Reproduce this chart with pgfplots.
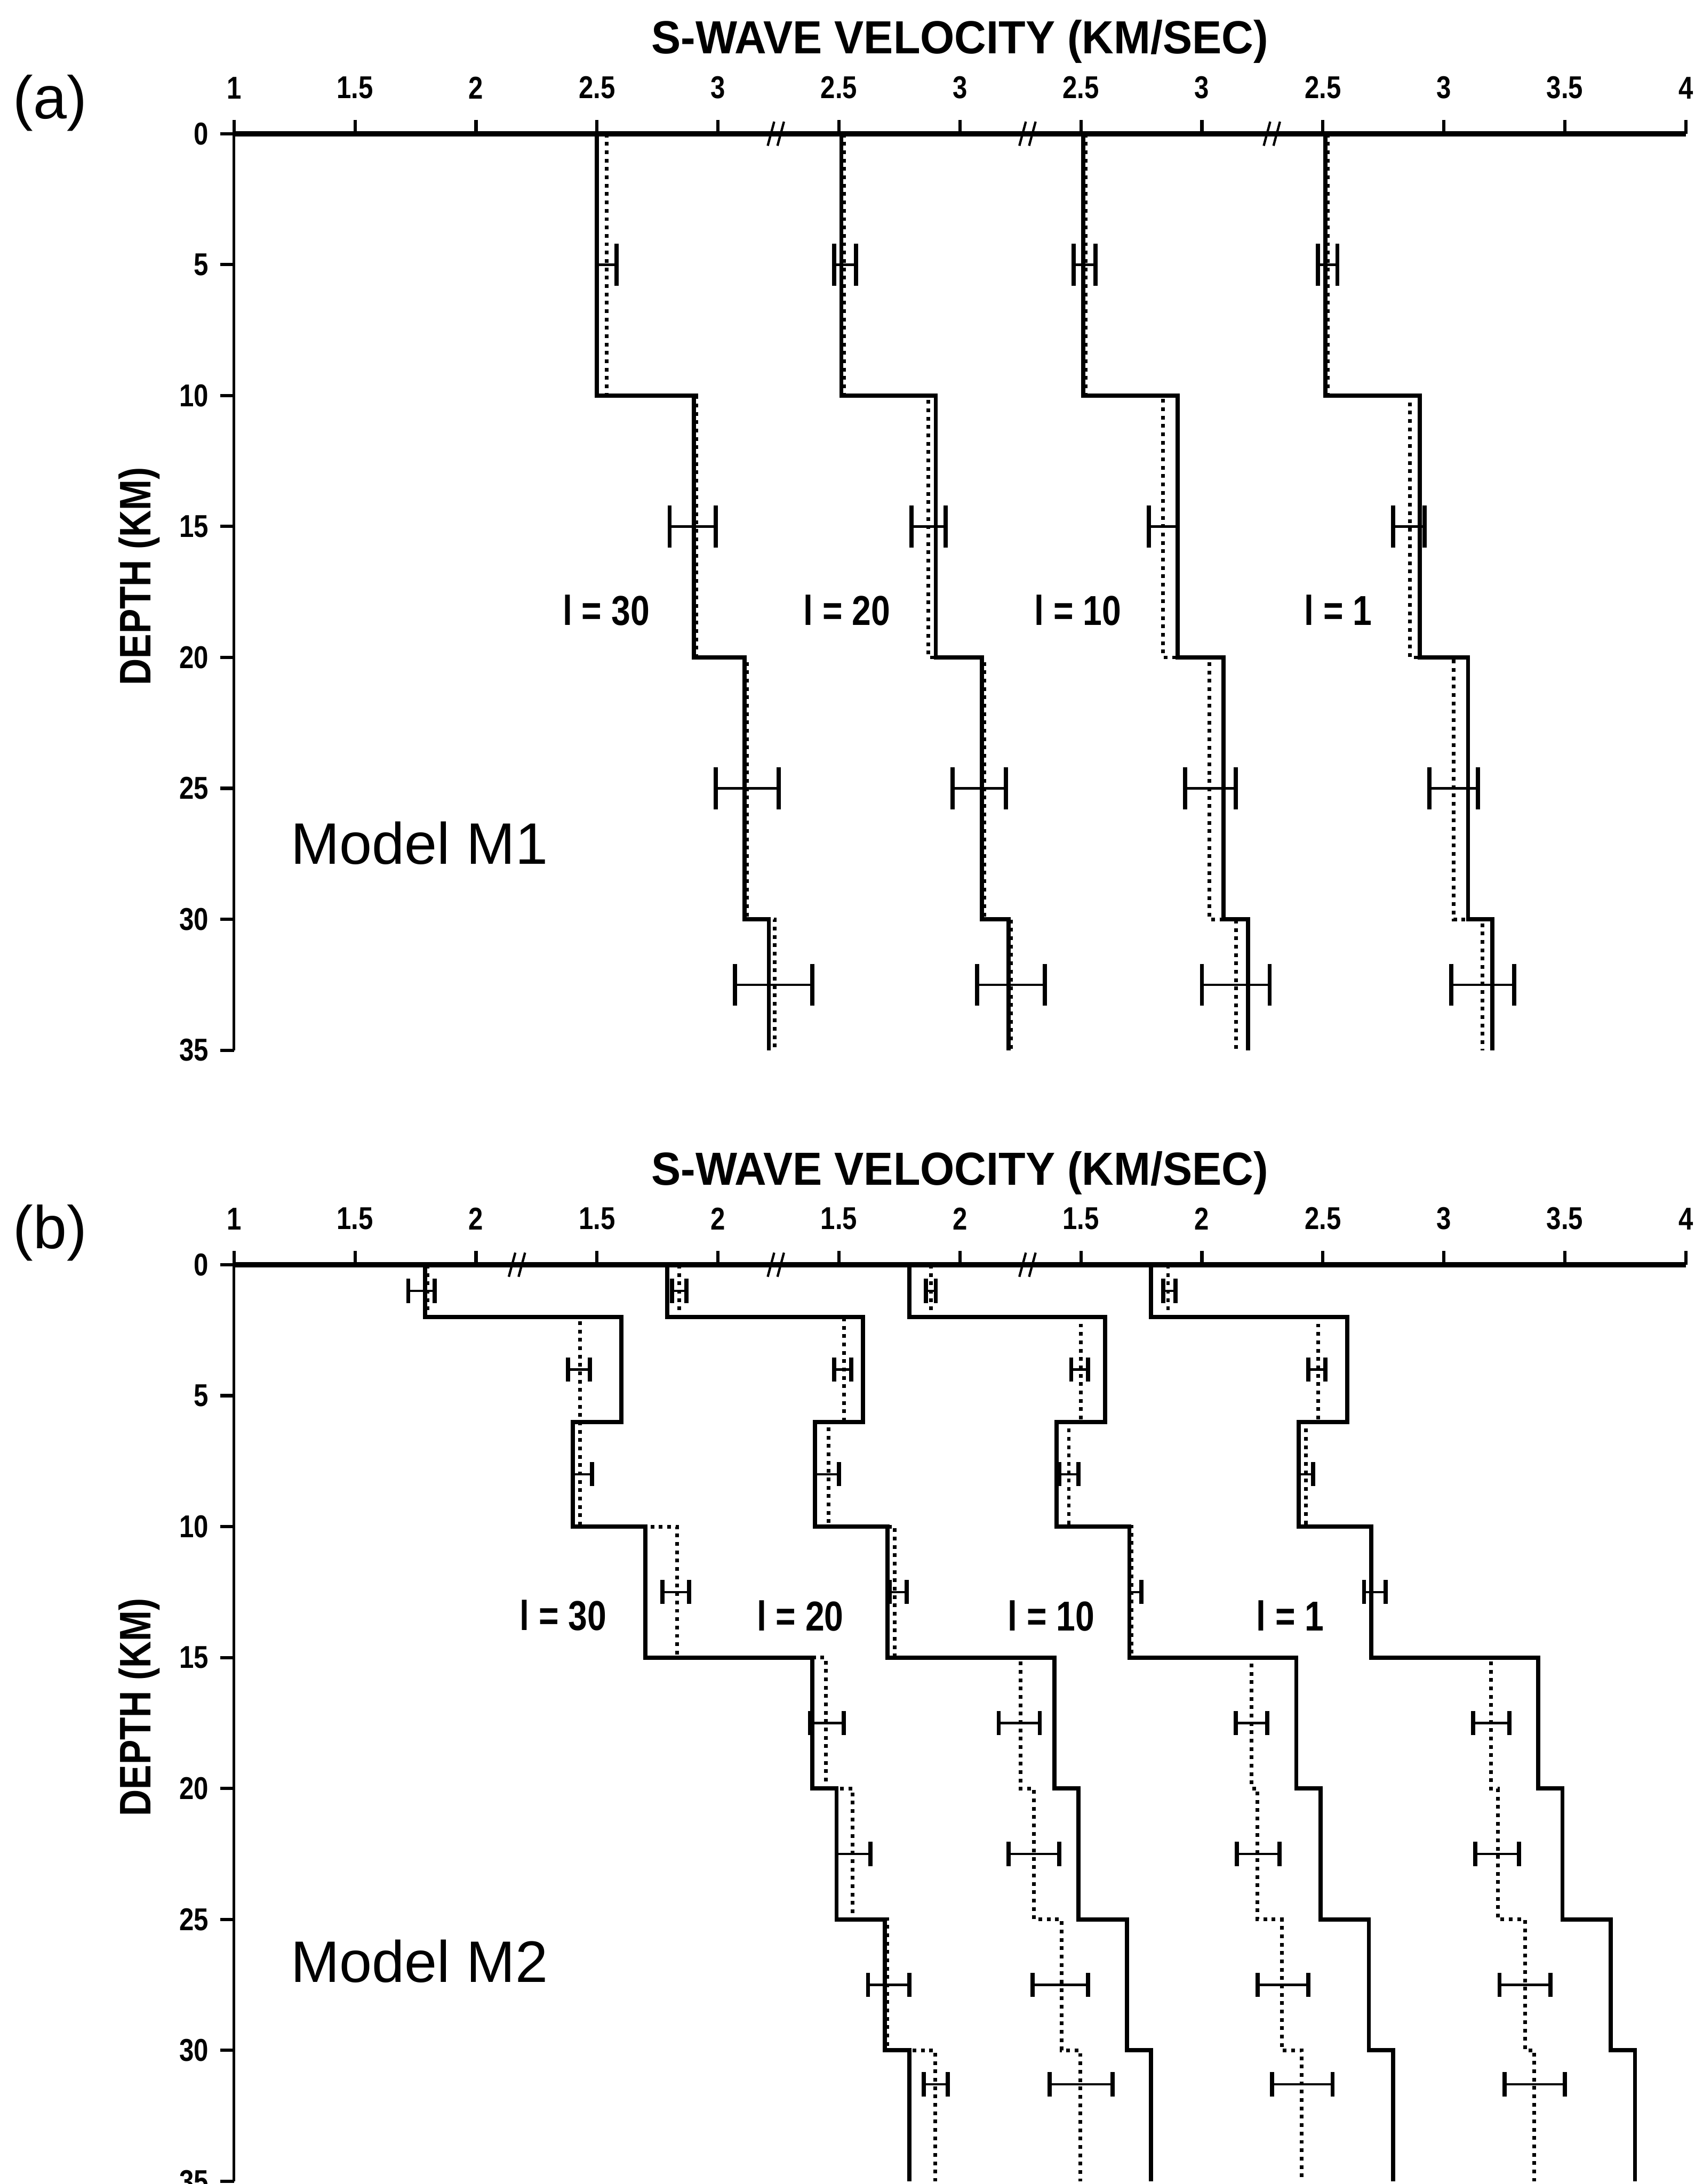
\documentclass[border=0pt]{standalone}
\usepackage{fontspec}
\setmainfont{Liberation Sans}
\usepackage{pgfplots}
\pgfplotsset{compat=1.18}
\newcommand\tl[1]{\scalebox{0.83}[1]{#1}}
\newcommand\lab[1]{\scalebox{0.82}[1]{\fontsize{9}{10}\selectfont\bfseries #1}}
\pgfplotsset{
  prof/.style={
    scale only axis, width=312.6pt, height=197.4pt,
    xmin=1, xmax=7, ymin=0, ymax=35, y dir=reverse,
    axis x line*=top, axis y line*=left,
    axis line style={-},
    x axis line style={line width=1.1pt},
    y axis line style={line width=0.6pt},
    tick align=outside,
    major tick length=3pt,
    tick style={black, line width=0.7pt},
    xtick={1,1.5,2,2.5,3,3.5,4,4.5,5,5.5,6,6.5,7},
    ytick={0,5,10,15,20,25,30,35},
    yticklabels={\tl{0},\tl{5},\tl{10},\tl{15},\tl{20},\tl{25},\tl{30},\tl{35}},
    ticklabel style={font=\fontsize{6.8}{8}\selectfont\bfseries},
    xticklabel style={yshift=1pt},
    yticklabel style={xshift=1pt},
    clip=false,
  },
  tru/.style={black, line width=0.9pt},
  inv/.style={black, line width=0.8pt, densely dotted},
  ebA/.style={black, line width=0.5pt, mark=|, mark size=4.5pt, mark options={solid, line width=0.9pt}, unbounded coords=jump},
  ebB/.style={black, line width=0.5pt, mark=|, mark size=2.6pt, mark options={solid, line width=0.9pt}, unbounded coords=jump},
}
\begin{document}
\begin{tikzpicture}
\path[use as bounding box] (0,0) rectangle (366.6pt,-470.4pt);
% ================= Panel (a) =================
\begin{axis}[prof, at={(50.4pt,-28.8pt)}, anchor=north west,
  xticklabels={\tl{1},\tl{1.5},\tl{2},\tl{2.5},\tl{3},\tl{2.5},\tl{3},\tl{2.5},\tl{3},\tl{2.5},\tl{3},\tl{3.5},\tl{4}}]
% true model
\addplot[tru] coordinates {(2.50,0)(2.50,10)(2.90,10)(2.90,20)(3.11,20)(3.11,30)(3.21,30)(3.21,35)};
\addplot[tru] coordinates {(3.51,0)(3.51,10)(3.90,10)(3.90,20)(4.09,20)(4.09,30)(4.20,30)(4.20,35)};
\addplot[tru] coordinates {(4.51,0)(4.51,10)(4.90,10)(4.90,20)(5.09,20)(5.09,30)(5.19,30)(5.19,35)};
\addplot[tru] coordinates {(5.51,0)(5.51,10)(5.90,10)(5.90,20)(6.10,20)(6.10,30)(6.20,30)(6.20,35)};
% inverted
\addplot[inv] coordinates {(2.54,0)(2.54,10)(2.91,10)(2.91,20)(3.12,20)(3.12,30)(3.235,30)(3.235,35)};
\addplot[inv] coordinates {(3.52,0)(3.52,10)(3.87,10)(3.87,20)(4.10,20)(4.10,30)(4.21,30)(4.21,35)};
\addplot[inv] coordinates {(4.52,0)(4.52,10)(4.84,10)(4.84,20)(5.03,20)(5.03,30)(5.14,30)(5.14,35)};
\addplot[inv] coordinates {(5.52,0)(5.52,10)(5.86,10)(5.86,20)(6.04,20)(6.04,30)(6.16,30)(6.16,35)};
% error bars
\addplot[ebA] coordinates {
 (2.50,5)(2.58,5)(nan,nan)(2.80,15)(2.99,15)(nan,nan)(2.99,25)(3.25,25)(nan,nan)(3.07,32.5)(3.39,32.5)(nan,nan)
 (3.48,5)(3.57,5)(nan,nan)(3.80,15)(3.94,15)(nan,nan)(3.97,25)(4.19,25)(nan,nan)(4.07,32.5)(4.35,32.5)(nan,nan)
 (4.47,5)(4.56,5)(nan,nan)(4.78,15)(4.90,15)(nan,nan)(4.93,25)(5.14,25)(nan,nan)(5.00,32.5)(5.28,32.5)(nan,nan)
 (5.48,5)(5.56,5)(nan,nan)(5.79,15)(5.92,15)(nan,nan)(5.94,25)(6.14,25)(nan,nan)(6.03,32.5)(6.29,32.5)};
% axis breaks
\pgfplotsinvokeforeach{3.24,4.28,5.29}{
  \draw[line width=0.5pt] ([xshift=-1.8pt,yshift=-2.6pt]axis cs:#1,0) -- ++(1.4pt,5.2pt);
  \draw[line width=0.5pt] ([xshift=0.3pt,yshift=-2.6pt]axis cs:#1,0) -- ++(1.4pt,5.2pt);
}
\node at (axis cs:4,0) [yshift=19.8pt] {\scalebox{0.95}[1]{\fontsize{10}{12}\selectfont\bfseries S-WAVE VELOCITY (KM/SEC)}};
\node[rotate=90] at ([xshift=-20.4pt]axis cs:1,16.9) {\scalebox{0.84}[1]{\fontsize{9.5}{11}\selectfont\bfseries DEPTH (KM)}};
\node at (axis cs:1,0) [xshift=-39.6pt, yshift=6.6pt] {\fontsize{13}{15}\selectfont (a)};
\node at (axis cs:1.766,27.1) {\fontsize{12.6}{14}\selectfont Model M1};
\node at (axis cs:2.538,18.2) {\lab{l = 30}};
\node at (axis cs:3.533,18.2) {\lab{l = 20}};
\node at (axis cs:4.487,18.2) {\lab{l = 10}};
\node at (axis cs:5.563,18.2) {\lab{l = 1}};
\end{axis}
% ================= Panel (b) =================
\begin{axis}[prof, at={(50.4pt,-272.4pt)}, anchor=north west,
  xticklabels={\tl{1},\tl{1.5},\tl{2},\tl{1.5},\tl{2},\tl{1.5},\tl{2},\tl{1.5},\tl{2},\tl{2.5},\tl{3},\tl{3.5},\tl{4}}]
% true model
\addplot[tru] coordinates {(1.79,0)(1.79,2)(2.60,2)(2.60,6)(2.40,6)(2.40,10)(2.70,10)(2.70,15)(3.39,15)(3.39,20)(3.49,20)(3.49,25)(3.69,25)(3.69,30)(3.79,30)(3.79,35)};
\addplot[tru] coordinates {(2.79,0)(2.79,2)(3.60,2)(3.60,6)(3.40,6)(3.40,10)(3.70,10)(3.70,15)(4.39,15)(4.39,20)(4.49,20)(4.49,25)(4.69,25)(4.69,30)(4.79,30)(4.79,35)};
\addplot[tru] coordinates {(3.79,0)(3.79,2)(4.60,2)(4.60,6)(4.40,6)(4.40,10)(4.70,10)(4.70,15)(5.39,15)(5.39,20)(5.49,20)(5.49,25)(5.69,25)(5.69,30)(5.79,30)(5.79,35)};
\addplot[tru] coordinates {(4.79,0)(4.79,2)(5.60,2)(5.60,6)(5.40,6)(5.40,10)(5.70,10)(5.70,15)(6.39,15)(6.39,20)(6.49,20)(6.49,25)(6.69,25)(6.69,30)(6.79,30)(6.79,35)};
% inverted
\addplot[inv] coordinates {(1.80,0)(1.80,2)(2.43,2)(2.43,6)(2.43,6)(2.43,10)(2.83,10)(2.83,15)(3.445,15)(3.445,20)(3.557,20)(3.557,25)(3.70,25)(3.70,30)(3.897,30)(3.897,35)};
\addplot[inv] coordinates {(2.84,0)(2.84,2)(3.52,2)(3.52,6)(3.456,6)(3.456,10)(3.73,10)(3.73,15)(4.25,15)(4.25,20)(4.306,20)(4.306,25)(4.42,25)(4.42,30)(4.497,30)(4.497,35)};
\addplot[inv] coordinates {(3.88,0)(3.88,2)(4.50,2)(4.50,6)(4.45,6)(4.45,10)(4.71,10)(4.71,15)(5.206,15)(5.206,20)(5.23,20)(5.23,25)(5.33,25)(5.33,30)(5.413,30)(5.413,35)};
\addplot[inv] coordinates {(4.86,0)(4.86,2)(5.48,2)(5.48,6)(5.43,6)(5.43,10)(5.70,10)(5.70,15)(6.195,15)(6.195,20)(6.223,20)(6.223,25)(6.335,25)(6.335,30)(6.374,30)(6.374,35)};
% error bars
\addplot[ebB] coordinates {
 (1.72,1)(1.83,1)(nan,nan)(2.38,4)(2.47,4)(nan,nan)(2.40,8)(2.48,8)(nan,nan)(2.77,12.5)(2.88,12.5)(nan,nan)
 (3.38,17.5)(3.52,17.5)(nan,nan)(3.49,22.5)(3.63,22.5)(nan,nan)(3.62,27.5)(3.79,27.5)(nan,nan)(3.85,31.3)(3.95,31.3)(nan,nan)
 (2.81,1)(2.87,1)(nan,nan)(3.48,4)(3.55,4)(nan,nan)(3.40,8)(3.50,8)(nan,nan)(3.71,12.5)(3.78,12.5)(nan,nan)
 (4.16,17.5)(4.33,17.5)(nan,nan)(4.20,22.5)(4.41,22.5)(nan,nan)(4.30,27.5)(4.53,27.5)(nan,nan)(4.37,31.3)(4.63,31.3)(nan,nan)
 (3.86,1)(3.90,1)(nan,nan)(4.46,4)(4.53,4)(nan,nan)(4.41,8)(4.49,8)(nan,nan)(4.70,12.5)(4.75,12.5)(nan,nan)
 (5.14,17.5)(5.27,17.5)(nan,nan)(5.145,22.5)(5.32,22.5)(nan,nan)(5.23,27.5)(5.44,27.5)(nan,nan)(5.29,31.3)(5.54,31.3)(nan,nan)
 (4.84,1)(4.89,1)(nan,nan)(5.44,4)(5.51,4)(nan,nan)(5.40,8)(5.46,8)(nan,nan)(5.67,12.5)(5.76,12.5)(nan,nan)
 (6.12,17.5)(6.27,17.5)(nan,nan)(6.13,22.5)(6.31,22.5)(nan,nan)(6.23,27.5)(6.44,27.5)(nan,nan)(6.25,31.3)(6.50,31.3)};
% axis breaks
\pgfplotsinvokeforeach{2.17,3.24,4.28}{
  \draw[line width=0.5pt] ([xshift=-1.8pt,yshift=-2.6pt]axis cs:#1,0) -- ++(1.4pt,5.2pt);
  \draw[line width=0.5pt] ([xshift=0.3pt,yshift=-2.6pt]axis cs:#1,0) -- ++(1.4pt,5.2pt);
}
\node at (axis cs:4,0) [yshift=19.8pt] {\scalebox{0.95}[1]{\fontsize{10}{12}\selectfont\bfseries S-WAVE VELOCITY (KM/SEC)}};
\node[rotate=90] at ([xshift=-20.4pt]axis cs:1,16.9) {\scalebox{0.84}[1]{\fontsize{9.5}{11}\selectfont\bfseries DEPTH (KM)}};
\node at (axis cs:1,0) [xshift=-39.6pt, yshift=6.9pt] {\fontsize{13}{15}\selectfont (b)};
\node at (axis cs:1.766,26.6) {\fontsize{12.6}{14}\selectfont Model M2};
\node at (axis cs:2.36,13.4) {\lab{l = 30}};
\node at (axis cs:3.34,13.4) {\lab{l = 20}};
\node at (axis cs:4.377,13.4) {\lab{l = 10}};
\node at (axis cs:5.365,13.4) {\lab{l = 1}};
\end{axis}
\end{tikzpicture}
\end{document}
